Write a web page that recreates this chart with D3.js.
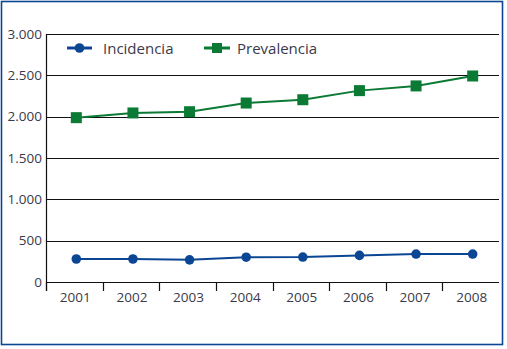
<!DOCTYPE html>
<html>
<head>
<meta charset="utf-8">
<script src="https://cdn.jsdelivr.net/npm/d3@7"></script>
<style>
  body { margin: 0; background: #fff; }
  text { font-family: "Open Sans", sans-serif; fill: #3a3a4a; }
</style>
</head>
<body>
<div id="chart"></div>
<script>
var width = 507, height = 349;
var margin = {top: 34, right: 8, bottom: 67, left: 46};

const years = ['2001', '2002', '2003', '2004', '2005', '2006', '2007', '2008'];
const incidencia = [278, 278, 268, 300, 302, 322, 338, 338];
const prevalencia = [1988, 2045, 2060, 2165, 2205, 2315, 2372, 2492];
const yTicks = [0, 500, 1000, 1500, 2000, 2500, 3000];
const seriesNames = ['Incidencia', 'Prevalencia'];

var blue = '#0b4694', green = '#0a7a34';

var svg = d3.select('#chart')
	.append('svg')
	.attr('width', width)
	.attr('height', height);

// outer frame
svg.append('rect')
	.attr('x', 1.5).attr('y', 1.5)
	.attr('width', 501).attr('height', 343)
	.attr('fill', 'none')
	.attr('stroke', blue)
	.attr('stroke-width', 1.6);

var x = d3.scaleBand()
	.domain(years)
	.range([margin.left, 499]);

var y = d3.scaleLinear()
	.domain([0, 3000])
	.range([282, margin.top]);

var fmt = d3.format(',');
function tickFmt(d) { return fmt(d).replace(/,/g, '.'); }

// grid lines
svg.append('g')
	.selectAll('line')
	.data(yTicks)
	.enter()
	.append('line')
	.attr('x1', margin.left)
	.attr('x2', 499)
	.attr('y1', d => Math.round(y(d)) + 0.5)
	.attr('y2', d => Math.round(y(d)) + 0.5)
	.attr('stroke', '#111')
	.attr('stroke-width', 1.2);

// y axis
var yAxis = d3.axisLeft(y).tickValues(yTicks).tickFormat(tickFmt).tickSize(0).tickPadding(4);
var yAxisG = svg.append('g')
	.attr('transform', 'translate(' + margin.left + ',0)')
	.call(yAxis);
yAxisG.select('.domain').remove();
yAxisG.selectAll('text').style('font-size', '13.5px');

svg.append('line')
	.attr('x1', margin.left + 0.5).attr('x2', margin.left + 0.5)
	.attr('y1', y(3000)).attr('y2', 291)
	.attr('stroke', '#111').attr('stroke-width', 1.2);

// x ticks at band boundaries
svg.append('g')
	.selectAll('line')
	.data(years)
	.enter()
	.append('line')
	.attr('x1', d => Math.round(x(d)) + 0.5)
	.attr('x2', d => Math.round(x(d)) + 0.5)
	.attr('y1', 282)
	.attr('y2', 291)
	.attr('stroke', '#111')
	.attr('stroke-width', 1.2);

svg.append('g')
	.selectAll('text')
	.data(years)
	.enter()
	.append('text')
	.attr('x', d => x(d) + x.bandwidth() / 2 + 1)
	.attr('y', 302)
	.attr('text-anchor', 'middle')
	.style('font-size', '13.5px')
	.text(d => d);

var line = d3.line()
	.x((d, i) => x(years[i]) + x.bandwidth() / 2 + 2)
	.y(d => y(d));

// prevalencia
svg.append('path')
	.datum(prevalencia)
	.attr('d', line)
	.attr('fill', 'none')
	.attr('stroke', green)
	.attr('stroke-width', 2);

svg.selectAll('.sq')
	.data(prevalencia)
	.enter()
	.append('rect')
	.attr('class', 'sq')
	.attr('x', (d, i) => x(years[i]) + x.bandwidth() / 2 + 2 - 5.5)
	.attr('y', d => y(d) - 5.5)
	.attr('width', 11)
	.attr('height', 11)
	.attr('fill', green);

// incidencia
svg.append('path')
	.datum(incidencia)
	.attr('d', line)
	.attr('fill', 'none')
	.attr('stroke', blue)
	.attr('stroke-width', 2);

svg.selectAll('.dot')
	.data(incidencia)
	.enter()
	.append('circle')
	.attr('class', 'dot')
	.attr('cx', (d, i) => x(years[i]) + x.bandwidth() / 2 + 2)
	.attr('cy', d => y(d))
	.attr('r', 4.8)
	.attr('fill', blue);

// legend
var legend = [
	{name: seriesNames[0], color: blue, x0: 67, x1: 92, tx: 103, shape: 'circle'},
	{name: seriesNames[1], color: green, x0: 204, x1: 230, tx: 237, shape: 'square'}
];
var lg = svg.append('g').selectAll('g').data(legend).enter().append('g');
lg.append('line')
	.attr('x1', d => d.x0).attr('x2', d => d.x1)
	.attr('y1', 48).attr('y2', 48)
	.attr('stroke', d => d.color).attr('stroke-width', 3);
lg.filter(d => d.shape === 'circle').append('circle')
	.attr('cx', d => (d.x0 + d.x1) / 2).attr('cy', 48).attr('r', 4.8)
	.attr('fill', d => d.color);
lg.filter(d => d.shape === 'square').append('rect')
	.attr('x', d => (d.x0 + d.x1) / 2 - 5).attr('y', 43).attr('width', 10).attr('height', 10)
	.attr('fill', d => d.color);
lg.append('text')
	.attr('x', d => d.tx).attr('y', 54)
	.style('font-size', '15px')
	.text(d => d.name);
</script>
</body>
</html>
